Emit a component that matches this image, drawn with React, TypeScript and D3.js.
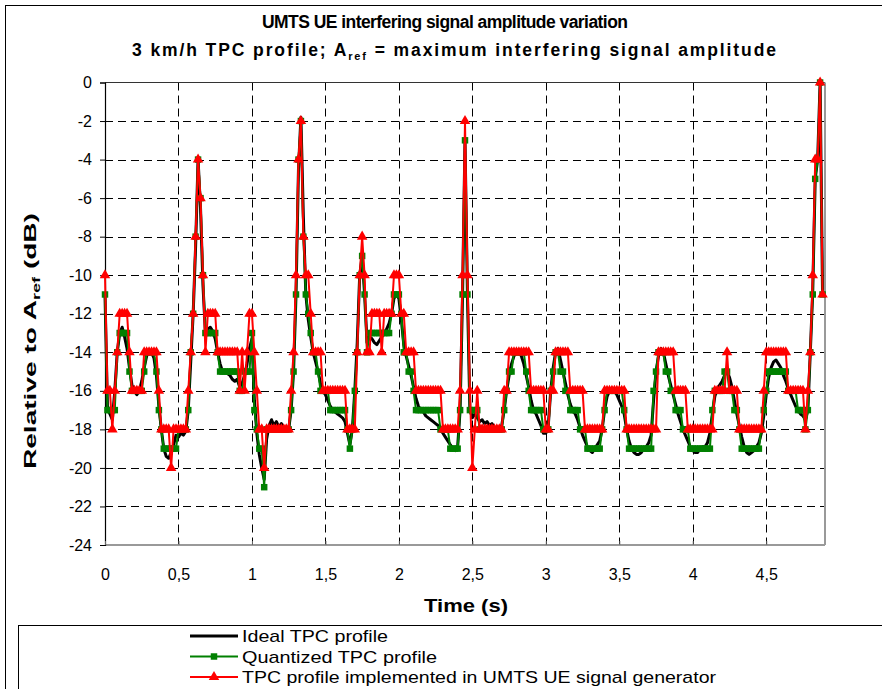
import React, { useRef, useEffect } from 'react';
import * as d3 from 'd3';

// one sample every 1/60 s, starting at t = 0
const SAMPLE_STEP = 1 / 60;

const idealProfile = [
  -11, -16.8, -17.2, -17.5, -16, -14, -13, -12.7, -13.2, -13.8,
  -14.8, -15.7, -16, -16.2, -16, -15.5, -14.8, -14.2, -13.9, -14,
  -14.3, -15.2, -16.8, -18, -19, -19.4, -19.5, -19.2, -18.8, -18.3,
  -18.4, -18.2, -18.3, -18.1, -17, -14.5, -12, -8.5, -4, -6.5,
  -10.5, -13, -12.8, -12.7, -12.9, -13.3, -14, -14.6, -15, -15,
  -15.1, -15.2, -15.4, -15.5, -15.4, -15.8, -15.6, -15.2, -14.6, -13.8,
  -13.3, -16.5, -18.2, -19.3, -20, -20.6, -18.5, -17.8, -17.5, -17.8,
  -17.6, -17.9, -17.7, -17.9, -18, -18, -17, -15, -11, -4.5,
  -1.8, -7, -11, -12.3, -13.2, -14, -14.5, -15, -15.6, -16,
  -16.2, -16.5, -16.8, -17, -17.1, -17.2, -17.3, -17.4, -17.6, -18.2,
  -18.8, -18, -16, -13.5, -10, -9, -11, -13.5, -13.2, -13.3,
  -13.5, -13.6, -13.4, -13.2, -13, -12.8, -12.5, -12, -11.2, -11,
  -11.2, -12.3, -13.6, -14.2, -14.7, -15.2, -15.8, -16.4, -16.8, -17,
  -17.1, -17.3, -17.4, -17.5, -17.6, -17.7, -17.8, -18, -18.2, -18.4,
  -18.6, -18.8, -19, -19.1, -18.9, -17, -11, -3, -11, -17,
  -17.4, -17.2, -17.4, -17.6, -17.5, -17.7, -17.6, -17.8, -17.7, -17.9,
  -18, -18, -17.8, -17, -16, -15.2, -14.6, -14.2, -13.9, -13.9,
  -14.2, -14.6, -15.2, -15.8, -16.5, -17, -17.2, -17.5, -17.8, -18.2,
  -18.2, -17.8, -16, -14.8, -14, -13.8, -14.4, -15, -15.6, -16.2,
  -16.7, -17, -17.2, -17.5, -17.9, -18.3, -18.6, -18.9, -19.1, -19.2,
  -19, -18.8, -18.6, -18, -17, -16.3, -16, -15.9, -16, -16.2,
  -16.5, -16.8, -17.2, -18, -18.6, -19, -19.2, -19.3, -19.3, -19.2,
  -19, -18.9, -18.7, -18.3, -16.5, -15, -14.2, -13.8, -14, -14.6,
  -15.2, -15.7, -16.2, -16.7, -17.2, -17.6, -18, -18.3, -18.6, -18.9,
  -19.1, -19.2, -19.2, -19, -18.9, -18.9, -18.7, -18.2, -17.2, -16.3,
  -15.9, -15.7, -15.5, -15.2, -15, -15.3, -15.8, -16.5, -17.2, -17.8,
  -18.4, -18.9, -19.2, -19.3, -19.2, -19.1, -18.9, -18.7, -18.2, -17.3,
  -16.2, -15.3, -14.8, -14.5, -14.4, -14.6, -14.8, -15.2, -15.5, -15.9,
  -16.2, -16.5, -16.8, -17, -17.2, -17.3, -17.5, -17, -14, -10.8,
  -5, -4, 0, -11,
];

const quantizedProfile = [
  -11, -17, -17, -17, -17, -14, -13, -13, -13, -13,
  -15, -16, -16, -16, -16, -16, -15, -14, -14, -14,
  -14, -15, -17, -18, -19, -19, -19, -19, -19, -19,
  -18, -18, -18, -18, -17, -14, -12, -8, -4, -6,
  -10, -13, -13, -13, -13, -13, -14, -15, -15, -15,
  -15, -15, -15, -15, -15, -16, -16, -15, -15, -15,
  -13, -17, -18, -19, -19, -21, -18, -18, -18, -18,
  -18, -18, -18, -18, -18, -18, -17, -15, -11, -4,
  -2, -8, -11, -12, -13, -14, -14, -15, -16, -16,
  -16, -16, -17, -17, -17, -17, -17, -17, -17, -18,
  -19, -18, -16, -14, -10, -9, -11, -14, -13, -13,
  -13, -13, -13, -13, -13, -13, -13, -12, -11, -11,
  -11, -12, -14, -14, -15, -15, -16, -17, -17, -17,
  -17, -17, -17, -17, -17, -17, -17, -18, -18, -18,
  -18, -19, -19, -19, -19, -17, -11, -3, -11, -17,
  -17, -17, -17, -18, -18, -18, -18, -18, -18, -18,
  -18, -18, -18, -17, -16, -15, -15, -14, -14, -14,
  -14, -14, -15, -16, -17, -17, -17, -17, -17, -18,
  -18, -18, -16, -15, -14, -14, -15, -15, -16, -16,
  -17, -17, -17, -17, -18, -18, -18, -19, -19, -19,
  -19, -19, -19, -18, -17, -16, -16, -16, -16, -16,
  -16, -16, -17, -18, -19, -19, -19, -19, -19, -19,
  -19, -19, -19, -19, -16, -15, -14, -14, -14, -15,
  -15, -16, -16, -17, -17, -17, -18, -18, -18, -19,
  -19, -19, -19, -19, -19, -19, -19, -19, -17, -16,
  -16, -16, -16, -15, -15, -16, -16, -17, -17, -18,
  -19, -19, -19, -19, -19, -19, -19, -19, -18, -17,
  -16, -15, -15, -15, -15, -15, -15, -15, -15, -16,
  -16, -16, -16, -17, -17, -17, -18, -17, -14, -11,
  -5, -4, 0, -11,
];

const generatorProfile = [
  -10, -16, -16, -18, -16, -14, -12, -12, -12, -12,
  -14, -16, -16, -16, -16, -16, -14, -14, -14, -14,
  -14, -14, -16, -18, -18, -18, -18, -20, -18, -18,
  -18, -18, -18, -18, -16, -14, -12, -8, -4, -6,
  -10, -14, -12, -12, -12, -12, -14, -14, -14, -14,
  -14, -14, -14, -14, -14, -16, -14, -16, -14, -12,
  -12, -14, -16, -18, -18, -20, -18, -18, -18, -18,
  -18, -18, -18, -18, -18, -18, -16, -14, -10, -4,
  -2, -8, -10, -10, -12, -14, -14, -14, -14, -16,
  -16, -16, -16, -16, -16, -16, -16, -16, -16, -18,
  -18, -18, -18, -14, -10, -8, -10, -14, -14, -12,
  -12, -12, -12, -14, -12, -12, -12, -12, -10, -10,
  -10, -12, -12, -14, -14, -14, -14, -16, -16, -16,
  -16, -16, -16, -16, -16, -16, -16, -16, -18, -18,
  -18, -18, -18, -18, -18, -16, -10, -2, -10, -16,
  -20, -18, -16, -18, -18, -18, -18, -18, -18, -18,
  -18, -18, -18, -16, -16, -14, -14, -14, -14, -14,
  -14, -14, -14, -14, -16, -16, -16, -16, -16, -16,
  -18, -18, -16, -16, -14, -14, -14, -14, -14, -14,
  -16, -16, -16, -16, -16, -16, -18, -18, -18, -18,
  -18, -18, -18, -18, -16, -16, -16, -16, -16, -16,
  -16, -16, -16, -18, -18, -18, -18, -18, -18, -18,
  -18, -18, -18, -18, -18, -18, -14, -14, -14, -14,
  -14, -14, -14, -16, -16, -16, -16, -16, -18, -18,
  -18, -18, -18, -18, -18, -18, -18, -18, -18, -16,
  -16, -16, -16, -16, -14, -16, -16, -16, -16, -18,
  -18, -18, -18, -18, -18, -18, -18, -18, -18, -16,
  -14, -14, -14, -14, -14, -14, -14, -14, -14, -16,
  -16, -16, -16, -16, -16, -16, -18, -16, -14, -10,
  -4, -4, 0, -11,
];

const xTicks = [0, 0.5, 1, 1.5, 2, 2.5, 3, 3.5, 4, 4.5];
const yTicks = [0, -2, -4, -6, -8, -10, -12, -14, -16, -18, -20, -22, -24];
const legendNames = [
  'Ideal TPC profile',
  'Quantized TPC profile',
  'TPC profile implemented in UMTS UE signal generator',
];
const legendWidths = [146, 195, 474];

const FONT = "'Liberation Sans', Arial, sans-serif";

export default function App() {
  const svg_ref = useRef<SVGSVGElement>(null);

  useEffect(() => {
    draw(svg_ref.current);
  }, []);

  return (
    <svg
      ref={svg_ref}
      width={882}
      height={689}
      style={{ position: 'absolute', left: 0, top: 0, background: '#fff' }}
    />
  );
}

function draw(node: SVGSVGElement | null) {
  if (!node) return;
  const svg = d3.select(node);
  svg.selectAll('*').remove();

  const left = 105, right = 825, top = 82.5, bottom = 545;

  const x = d3.scaleLinear().domain([0, 4.9]).range([left, right]);
  const y = d3.scaleLinear().domain([-24, 0]).range([bottom, top]);

  // chart frame and legend frame
  svg.append('rect')
    .attr('x', 5.5).attr('y', 5.5).attr('width', 890).attr('height', 700)
    .attr('fill', 'none').attr('stroke', '#000');
  svg.append('rect')
    .attr('x', 18.5).attr('y', 625.5).attr('width', 900).attr('height', 100)
    .attr('fill', '#fff').attr('stroke', '#000');

  // titles
  const title = svg.append('g')
    .attr('font-family', FONT).attr('font-weight', 'bold').attr('font-size', 17.5)
    .attr('text-anchor', 'middle').attr('fill', '#000');
  title.append('text').attr('x', 445).attr('y', 28)
    .attr('textLength', 366).attr('lengthAdjust', 'spacing')
    .text('UMTS UE interfering signal amplitude variation');
  const t2 = title.append('text').attr('x', 454).attr('y', 56)
    .attr('textLength', 644).attr('lengthAdjust', 'spacing');
  t2.append('tspan').text('3 km/h TPC profile;  A');
  t2.append('tspan').attr('font-size', 11).attr('dy', 4).text('ref');
  t2.append('tspan').attr('dy', -4).text(' = maximum interfering signal amplitude');

  // grid
  svg.append('g')
    .selectAll('line')
    .data(yTicks.filter(d => d !== 0 && d !== -24))
    .enter().append('line')
    .attr('x1', left).attr('x2', right)
    .attr('y1', d => Math.round(y(d)) + 0.5).attr('y2', d => Math.round(y(d)) + 0.5)
    .attr('stroke', '#000').attr('stroke-dasharray', '8,5');
  svg.append('g')
    .selectAll('line')
    .data(xTicks.filter(d => d !== 0))
    .enter().append('line')
    .attr('y1', top).attr('y2', bottom)
    .attr('x1', d => Math.round(x(d)) + 0.5).attr('x2', d => Math.round(x(d)) + 0.5)
    .attr('stroke', '#000').attr('stroke-dasharray', '8,5');

  // plot area border
  svg.append('line').attr('x1', left).attr('x2', right).attr('y1', top).attr('y2', top)
    .attr('stroke', '#333').attr('stroke-width', 1.2);
  svg.append('line').attr('x1', right).attr('x2', right).attr('y1', top).attr('y2', bottom)
    .attr('stroke', '#999').attr('stroke-width', 2);
  svg.append('line').attr('x1', left).attr('x2', right).attr('y1', bottom).attr('y2', bottom)
    .attr('stroke', '#999').attr('stroke-width', 2);

  // axes
  const y_axis = d3.axisLeft(y).tickValues(yTicks).tickSize(5).tickPadding(8)
    .tickFormat(d => String(d));
  const yg = svg.append('g').attr('transform', `translate(${left},0)`).call(y_axis);
  yg.select('.domain').attr('stroke', '#000').attr('stroke-width', 1.2);
  yg.selectAll('text').attr('font-family', FONT).attr('font-size', 16).attr('fill', '#000');

  const x_axis = d3.axisBottom(x).tickValues(xTicks).tickSizeInner(-4).tickSizeOuter(0)
    .tickPadding(24).tickFormat(d => String(d).replace('.', ','));
  const xg = svg.append('g').attr('transform', `translate(0,${bottom})`).call(x_axis);
  xg.select('.domain').remove();
  xg.selectAll('line').attr('stroke', '#666');
  xg.selectAll('text').attr('font-family', FONT).attr('font-size', 16).attr('fill', '#000');

  // axis titles
  svg.append('text')
    .attr('x', 466).attr('y', 612)
    .attr('text-anchor', 'middle').attr('font-family', FONT)
    .attr('font-weight', 'bold').attr('font-size', 18)
    .attr('textLength', 84).attr('lengthAdjust', 'spacingAndGlyphs')
    .text('Time (s)');
  const yt = svg.append('text')
    .attr('transform', 'translate(36,341) rotate(-90)')
    .attr('text-anchor', 'middle').attr('font-family', FONT)
    .attr('font-weight', 'bold').attr('font-size', 17)
    .attr('textLength', 256).attr('lengthAdjust', 'spacingAndGlyphs');
  yt.append('tspan').text('Relative to A');
  yt.append('tspan').attr('font-size', 11).attr('dy', 4).text('ref');
  yt.append('tspan').attr('dy', -4).text('  (dB)');

  // series
  const line = d3.line<number>()
    .x((d, i) => x(i * SAMPLE_STEP))
    .y(d => y(d));

  const plot = svg.append('g');

  plot.append('path').datum(idealProfile)
    .attr('d', line).attr('fill', 'none')
    .attr('stroke', '#000').attr('stroke-width', 3).attr('stroke-linejoin', 'round');

  plot.append('path').datum(quantizedProfile)
    .attr('d', line).attr('fill', 'none')
    .attr('stroke', '#008000').attr('stroke-width', 2);
  const square = d3.symbol().type(d3.symbolSquare).size(42);
  plot.append('g').selectAll('path')
    .data(quantizedProfile)
    .enter().append('path')
    .attr('d', square)
    .attr('transform', (d, i) => `translate(${x(i * SAMPLE_STEP)},${y(d)})`)
    .attr('fill', '#008000');

  plot.append('path').datum(generatorProfile)
    .attr('d', line).attr('fill', 'none')
    .attr('stroke', '#ff0000').attr('stroke-width', 2);
  const triangle = d3.symbol().type(d3.symbolTriangle).size(48);
  plot.append('g').selectAll('path')
    .data(generatorProfile)
    .enter().append('path')
    .attr('d', triangle)
    .attr('transform', (d, i) => `translate(${x(i * SAMPLE_STEP)},${y(d)})`)
    .attr('fill', '#ff0000');

  // legend
  const colors = ['#000', '#008000', '#ff0000'];
  const legend = svg.append('g')
    .selectAll('g')
    .data(legendNames)
    .enter().append('g')
    .attr('transform', (d, i) => `translate(0,${636 + i * 20.5})`);
  legend.append('line')
    .attr('x1', 190).attr('x2', 238)
    .attr('stroke', (d, i) => colors[i])
    .attr('stroke-width', (d, i) => (i === 0 ? 3 : 2));
  legend.filter((d, i) => i === 1).append('path')
    .attr('d', square).attr('transform', 'translate(214,0)').attr('fill', '#008000');
  legend.filter((d, i) => i === 2).append('path')
    .attr('d', triangle).attr('transform', 'translate(214,0)').attr('fill', '#ff0000');
  legend.append('text')
    .attr('x', 242).attr('y', 6)
    .attr('font-family', FONT).attr('font-size', 17).attr('fill', '#000')
    .attr('textLength', (d, i) => legendWidths[i]).attr('lengthAdjust', 'spacingAndGlyphs')
    .text(d => d);
}
